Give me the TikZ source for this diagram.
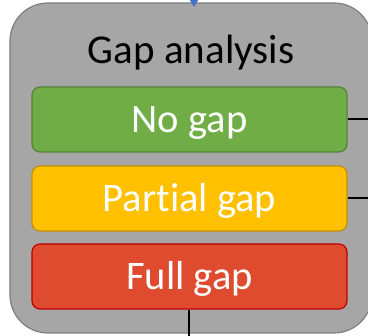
\documentclass[tikz,border=0pt]{standalone}
\usepackage{fontspec}
\setmainfont{Carlito}[Ligatures={NoCommon,NoRequired,NoContextual}]
\usetikzlibrary{arrows.meta}
\definecolor{outerfill}{HTML}{A6A6A6}
\definecolor{outerline}{HTML}{7F7F7F}
\definecolor{gfill}{HTML}{70AD47}
\definecolor{gline}{HTML}{548235}
\definecolor{yfill}{HTML}{FFC000}
\definecolor{yline}{HTML}{BF9000}
\definecolor{rfill}{HTML}{DE4B2E}
\definecolor{rline}{HTML}{C00000}
\definecolor{arrowblue}{HTML}{4472C4}
\tikzset{
  outerbox/.style={draw=outerline, fill=outerfill, line width=1.2pt, rounded corners=38pt,
    minimum width=362pt, minimum height=330pt, inner sep=0pt},
  gapbox/.style={line width=1.2pt, rounded corners=8pt, minimum width=315pt, minimum height=65pt,
    inner sep=0pt, text=white, font=\fontsize{40.5}{46}\selectfont, text height=27pt, text depth=0pt},
  conn/.style={draw=black, line width=2pt},
}
\begin{document}
\begin{tikzpicture}[x=1pt,y=-1pt]
\useasboundingbox[fill=white] (0,0) rectangle (368,336);
\node[outerbox] (outer) at (191,168) {};
\node[font=\fontsize{41}{46}\selectfont, anchor=base, inner sep=0pt] (title) at (191,64) {Gap analysis};
\node[gapbox, draw=gline, fill=gfill] (nogap) at (189.5,119.5) {No gap};
\node[gapbox, draw=yline, fill=yfill] (partial) at (189.5,198.5) {Partial gap};
\node[gapbox, draw=rline, fill=rfill] (full) at (189.5,276.5) {Full gap};
\coordinate (src) at (194,-20);
\coordinate (dst) at (194,7);
\coordinate (outA) at (375,119.5);
\coordinate (outB) at (375,198.5);
\coordinate (outC) at (189.5,345);
\draw[conn] (nogap.east) -- (outA);
\draw[conn] (partial.east) -- (outB);
\draw[conn] (full.south) -- (outC);
\draw[draw=arrowblue, line width=1.5pt, -{Triangle[length=7pt,width=8pt]}] (src) -- (dst);
\end{tikzpicture}
\end{document}
